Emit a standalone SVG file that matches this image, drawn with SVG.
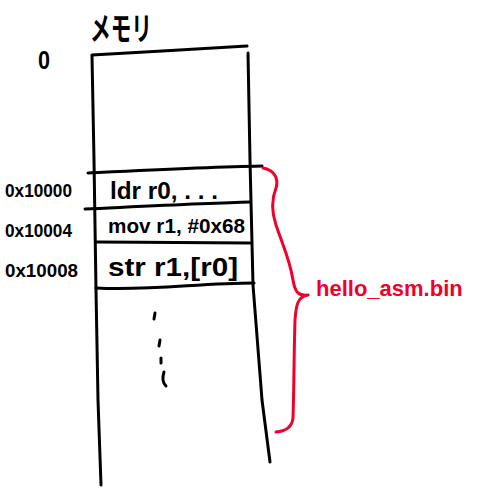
<svg xmlns="http://www.w3.org/2000/svg" width="480" height="492" viewBox="0 0 480 492">
<style>
.ln{fill:none;stroke:#000;stroke-width:3;stroke-linecap:round;stroke-linejoin:round}
.red{fill:none;stroke:#f0002a;stroke-width:3;stroke-linecap:round;stroke-linejoin:round}
.t{font-family:"Liberation Sans","Noto Sans CJK JP",sans-serif;font-weight:bold;fill:#000}
.rt{font-family:"Liberation Sans",sans-serif;font-weight:bold;fill:#f0002a}
</style>
<rect width="480" height="492" fill="#fff"/>
<g id="title">
<text class="t" x="90" y="40" font-size="32" textLength="62" lengthAdjust="spacingAndGlyphs">メモリ</text>
</g>
<g id="memory">
<path class="ln" d="M92,55 C140,52 200,49 247,46"/>
<path class="ln" d="M92,56 L94,160 L96,290 L98,400 L101,485"/>
<path class="ln" d="M248,53 L250,160 L253,285 L262,400 L270,462"/>
</g>
<g id="addr0">
<text class="t" x="38" y="69" font-size="26" textLength="12" lengthAdjust="spacingAndGlyphs">0</text>
</g>
<g id="cell0">
<path class="ln" d="M88,173 C150,170 210,167 262,166"/>
<text class="t" x="110" y="199" font-size="24" textLength="108" lengthAdjust="spacingAndGlyphs">ldr r0, . . .</text>
<text class="t" x="5" y="197" font-size="19" textLength="67" lengthAdjust="spacingAndGlyphs">0x10000</text>
</g>
<g id="cell1">
<path class="ln" d="M85,209 C150,206 210,203 250,202"/>
<text class="t" x="108" y="233" font-size="21" textLength="137" lengthAdjust="spacingAndGlyphs">mov r1, #0x68</text>
<text class="t" x="5" y="237" font-size="18" textLength="67" lengthAdjust="spacingAndGlyphs">0x10004</text>
</g>
<g id="cell2">
<path class="ln" d="M97,242 C150,242 210,243 250,243"/>
<text class="t" x="108" y="276" font-size="25" textLength="130" lengthAdjust="spacingAndGlyphs">str r1,[r0]</text>
<text class="t" x="5" y="277" font-size="19" textLength="73" lengthAdjust="spacingAndGlyphs">0x10008</text>
</g>
<g id="cell3">
<path class="ln" d="M96,288 C150,291 200,283 254,283"/>
<path class="ln" stroke-width="2.5" d="M155,313 L154,319 M160,340 L159,346 M161,358 L161,363 M164,372 C162,378 163,383 166,386"/>
</g>
<g id="brace">
<path class="red" d="M263,168 C274,170 279,178 276,188 C272,198 271,210 276,225 C282,243 290,260 293,280 C295,292 298,296 308,295 C298,296 296,305 295,320 C294,350 294,390 293,418 C292,428 285,431 276,432"/>
<text class="rt" x="316" y="296" font-size="22">hello_asm.bin</text>
</g>
</svg>
